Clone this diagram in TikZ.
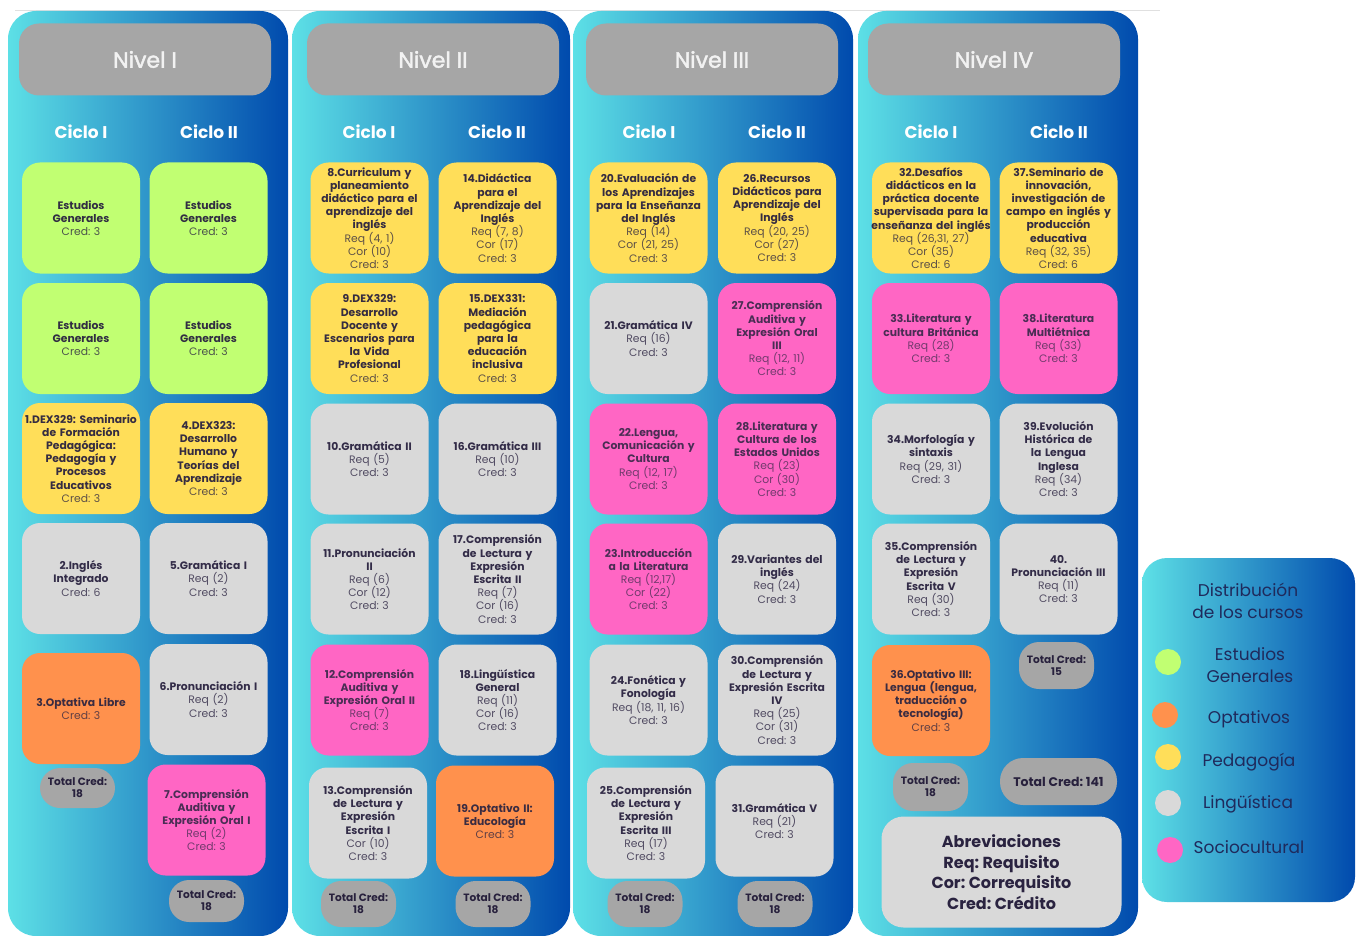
\documentclass[tikz,border=0pt]{standalone}
\usepackage{fontspec}
\setmainfont{Poppins}
\newfontfamily\nivfont{Poppins}[FakeBold=2]
\usetikzlibrary{positioning}
\frenchspacing

\definecolor{pleft}{HTML}{5DE0E6}
\definecolor{pright}{HTML}{004AAD}
\definecolor{cgen}{HTML}{C1FF72}
\definecolor{copt}{HTML}{FF914D}
\definecolor{cped}{HTML}{FFDE59}
\definecolor{clin}{HTML}{D9D9D9}
\definecolor{csoc}{HTML}{FF66C4}
\definecolor{cpill}{HTML}{A6A6A6}
\definecolor{ink}{HTML}{2A2340}
\definecolor{navy}{HTML}{1F2A5C}
% title and detail colours per category
\colorlet{tgen}{ink!95!cgen}\colorlet{dgen}{ink!78!cgen}
\colorlet{topt}{ink!92!copt}\colorlet{dopt}{ink!74!copt}
\colorlet{tped}{ink!95!cped}\colorlet{dped}{ink!76!cped}
\colorlet{tlin}{ink!95!clin}\colorlet{dlin}{ink!78!clin}
\colorlet{tsoc}{ink!85!csoc}\colorlet{dsoc}{ink!66!csoc}

\newcommand{\crs}[2]{{\bfseries\color{\tc}#1\par}{\color{\dc}#2\par}}

\tikzset{
  card/.style={rectangle, rounded corners=18pt, minimum width=118pt,
    minimum height=111pt, text width=118pt, inner sep=0pt, align=center,
    font=\fontsize{10.8}{13.2}\selectfont},
  gen/.style={card, fill=cgen, execute at begin node={\def\tc{tgen}\def\dc{dgen}}},
  opt/.style={card, fill=copt, execute at begin node={\def\tc{topt}\def\dc{dopt}}},
  ped/.style={card, fill=cped, execute at begin node={\def\tc{tped}\def\dc{dped}}},
  lin/.style={card, fill=clin, execute at begin node={\def\tc{tlin}\def\dc{dlin}}},
  soc/.style={card, fill=csoc, execute at begin node={\def\tc{tsoc}\def\dc{dsoc}}},
  pill/.style={rectangle, rounded corners=20pt, fill=cpill, minimum width=75pt,
    minimum height=46pt, align=center, text=ink!95!black,
    font=\bfseries\fontsize{10.6}{12}\selectfont},
  nivel/.style={rectangle, rounded corners=20pt, fill=cpill, minimum width=252pt,
    minimum height=72pt, text=white!95!black, font=\nivfont\fontsize{22}{26}\selectfont},
  ciclo/.style={text=white, font=\bfseries\fontsize{17}{20}\selectfont},
  legtext/.style={text=navy, align=center, font=\fontsize{17}{21.5}\selectfont},
  dot/.style={circle, minimum size=26pt, inner sep=0pt},
}

\begin{document}
\begin{tikzpicture}[x=1pt,y=-1pt]
\useasboundingbox (0,0) rectangle (1363,936);
\fill[white] (0,0) rectangle (1363,936);
\draw[black!12] (15,10) -- (1160,10);

% levels
\foreach \i/\l/\r/\hx/\ca/\cb/\nv in {1/8/288/145/81/209/I, 2/292/570/433/369/497/II,
    3/573/853/712/649/777/III, 4/858/1138/994/931/1059/IV}{
  \shade[left color=pleft, right color=pright, rounded corners=28pt] (\l,11) rectangle (\r,936);
  \node[nivel] (nv\i) at (\hx,59.5) {Nivel \nv};
  \node[ciclo] (ca\i) at (\ca,132) {Ciclo I};
  \node[ciclo] (cb\i) at (\cb,132) {Ciclo II};
}

% Nivel I
\node[gen] (eg1) at (81,218) {\crs{Estudios\\Generales}{Cred: 3}};
\node[gen] (eg2) at (81,338.5) {\crs{Estudios\\Generales}{Cred: 3}};
\node[ped] (c1) at (81,458.5) {\crs{1.DEX329: Seminario\\de Formación\\Pedagógica:\\Pedagogía y\\Procesos\\Educativos}{Cred: 3}};
\node[lin] (c2) at (81,578.5) {\crs{2.Inglés\\Integrado}{Cred: 6}};
\node[opt] (c3) at (81,708.5) {\crs{3.Optativa Libre}{Cred: 3}};
\node[pill, minimum height=40pt] (t1) at (77.5,788) {Total Cred:\\18};
\node[gen] (eg3) at (208.5,218) {\crs{Estudios\\Generales}{Cred: 3}};
\node[gen] (eg4) at (208.5,338.5) {\crs{Estudios\\Generales}{Cred: 3}};
\node[ped] (c4) at (208.5,458.5) {\crs{4.DEX323:\\Desarrollo\\Humano y\\Teorías del\\Aprendizaje}{Cred: 3}};
\node[lin] (c5) at (208.5,578.5) {\crs{5.Gramática I}{Req (2)\\Cred: 3}};
\node[lin] (c6) at (208.5,699.5) {\crs{6.Pronunciación I}{Req (2)\\Cred: 3}};
\node[soc] (c7) at (206.5,820) {\crs{7.Comprensión\\Auditiva y\\Expresión Oral I}{Req (2)\\Cred: 3}};
\node[pill, minimum height=42pt] (t2) at (206.5,901) {Total Cred:\\18};

% Nivel II
\node[ped] (c8) at (369.5,218) {\crs{8.Curriculum y\\planeamiento\\didáctico para el\\aprendizaje del\\inglés}{Req (4, 1)\\Cor (10)\\Cred: 3}};
\node[ped] (c9) at (369.5,338.5) {\crs{9.DEX329:\\Desarrollo\\Docente y\\Escenarios para\\la Vida\\Profesional}{Cred: 3}};
\node[lin] (c10) at (369.5,459) {\crs{10.Gramática II}{Req (5)\\Cred: 3}};
\node[lin] (c11) at (369.5,579) {\crs{11.Pronunciación\\II}{Req (6)\\Cor (12)\\Cred: 3}};
\node[soc] (c12) at (369.5,700) {\crs{12.Comprensión\\Auditiva y\\Expresión Oral II}{Req (7)\\Cred: 3}};
\node[lin] (c13) at (368,823) {\crs{13.Comprensión\\de Lectura y\\Expresión\\Escrita I}{Cor (10)\\Cred: 3}};
\node[pill] (t3) at (358.5,904) {Total Cred:\\18};
\node[ped] (c14) at (497.5,218) {\crs{14.Didáctica\\para el\\Aprendizaje del\\Inglés}{Req (7, 8)\\Cor (17)\\Cred: 3}};
\node[ped] (c15) at (497.5,338.5) {\crs{15.DEX331:\\Mediación\\pedagógica\\para la\\educación\\inclusiva}{Cred: 3}};
\node[lin] (c16) at (497.5,459) {\crs{16.Gramática III}{Req (10)\\Cred: 3}};
\node[lin] (c17) at (497.5,579) {\crs{17.Comprensión\\de Lectura y\\Expresión\\Escrita II}{Req (7)\\Cor (16)\\Cred: 3}};
\node[lin] (c18) at (497.5,700) {\crs{18.Lingüística\\General}{Req (11)\\Cor (16)\\Cred: 3}};
\node[opt] (c19) at (495,821) {\crs{19.Optativo II:\\Educología}{Cred: 3}};
\node[pill] (t4) at (493,904) {Total Cred:\\18};

% Nivel III
\node[ped] (c20) at (648.5,218) {\crs{20.Evaluación de\\los Aprendizajes\\para la Enseñanza\\del Inglés}{Req (14)\\Cor (21, 25)\\Cred: 3}};
\node[lin] (c21) at (648.5,338.5) {\crs{21.Gramática IV}{Req (16)\\Cred: 3}};
\node[soc] (c22) at (648.5,459) {\crs{22.Lengua,\\Comunicación y\\Cultura}{Req (12, 17)\\Cred: 3}};
\node[soc] (c23) at (648.5,579) {\crs{23.Introducción\\a la Literatura}{Req (12,17)\\Cor (22)\\Cred: 3}};
\node[lin] (c24) at (648.5,700) {\crs{24.Fonética y\\Fonología}{Req (18, 11, 16)\\Cred: 3}};
\node[lin] (c25) at (646,823) {\crs{25.Comprensión\\de Lectura y\\Expresión\\Escrita III}{Req (17)\\Cred: 3}};
\node[pill] (t5) at (645,904) {Total Cred:\\18};
\node[ped] (c26) at (777,218) {\crs{26.Recursos\\Didácticos para\\Aprendizaje del\\Inglés}{Req (20, 25)\\Cor (27)\\Cred: 3}};
\node[soc] (c27) at (777,338.5) {\crs{27.Comprensión\\Auditiva y\\Expresión Oral\\III}{Req (12, 11)\\Cred: 3}};
\node[soc] (c28) at (777,459) {\crs{28.Literatura y\\Cultura de los\\Estados Unidos}{Req (23)\\Cor (30)\\Cred: 3}};
\node[lin] (c29) at (777,579) {\crs{29.Variantes del\\inglés}{Req (24)\\Cred: 3}};
\node[lin] (c30) at (777,700) {\crs{30.Comprensión\\de Lectura y\\Expresión Escrita\\IV}{Req (25)\\Cor (31)\\Cred: 3}};
\node[lin] (c31) at (774.5,821) {\crs{31.Gramática V}{Req (21)\\Cred: 3}};
\node[pill] (t6) at (775,904) {Total Cred:\\18};

% Nivel IV
\node[ped, text width=126pt, inner xsep=-4pt] (c32) at (931,218) {\crs{32.Desafíos\\didácticos en la\\práctica docente\\supervisada para la\\enseñanza del inglés}{Req (26,31, 27)\\Cor (35)\\Cred: 6}};
\node[soc] (c33) at (931,338.5) {\crs{33.Literatura y\\cultura Británica}{Req (28)\\Cred: 3}};
\node[lin] (c34) at (931,459) {\crs{34.Morfología y\\sintaxis}{Req (29, 31)\\Cred: 3}};
\node[lin] (c35) at (931,579) {\crs{35.Comprensión\\de Lectura y\\Expresión\\Escrita V}{Req (30)\\Cred: 3}};
\node[opt] (c36) at (931,700.5) {\crs{36.Optativo III:\\Lengua (lengua,\\traducción o\\tecnología)}{Cred: 3}};
\node[pill, minimum height=48pt] (t7) at (930.5,787) {Total Cred:\\18};
\node[ped] (c37) at (1058.5,218) {\crs{37.Seminario de\\innovación,\\investigación de\\campo en inglés y\\producción\\educativa}{Req (32, 35)\\Cred: 6}};
\node[soc] (c38) at (1058.5,338.5) {\crs{38.Literatura\\Multiétnica}{Req (33)\\Cred: 3}};
\node[lin] (c39) at (1058.5,459) {\crs{39.Evolución\\Histórica de\\la Lengua\\Inglesa}{Req (34)\\Cred: 3}};
\node[lin] (c40) at (1058.5,579) {\crs{40.\\Pronunciación III}{Req (11)\\Cred: 3}};
\node[pill, minimum height=47pt] (t8) at (1056.5,665.5) {Total Cred:\\15};
\node[pill, minimum width=117pt, minimum height=47pt, rounded corners=23pt,
  font=\bfseries\fontsize{12.5}{14}\selectfont] (ttot) at (1058.5,781.5) {Total Cred: 141};
\node[rectangle, rounded corners=22pt, fill=clin, minimum width=240pt, minimum height=111pt,
  align=center, text=ink, font=\bfseries\fontsize{16}{20.5}\selectfont] (abbr) at (1001.5,872)
  {Abreviaciones\\Req: Requisito\\Cor: Correquisito\\Cred: Crédito};

% legend
\shade[left color=pleft, right color=pright, rounded corners=25pt] (1142,558) rectangle (1355,902);
\node[legtext] (lgt) at (1248,601) {Distribución\\de los cursos};
\node[dot, fill=cgen] (dgen) at (1168,662) {};
\node[dot, fill=copt] (dopt) at (1165,715) {};
\node[dot, fill=cped] (dped) at (1168,757) {};
\node[dot, fill=clin] (dlin) at (1168,803) {};
\node[dot, fill=csoc] (dsoc) at (1170,850) {};
\node[legtext] (lgen) at (1250,665) {Estudios\\Generales};
\node[legtext] (lopt) at (1249,719) {Optativos};
\node[legtext] (lped) at (1249,762) {Pedagogía};
\node[legtext] (llin) at (1248,804) {Lingüística};
\node[legtext] (lsoc) at (1249,847) {Sociocultural};
\end{tikzpicture}
\end{document}
